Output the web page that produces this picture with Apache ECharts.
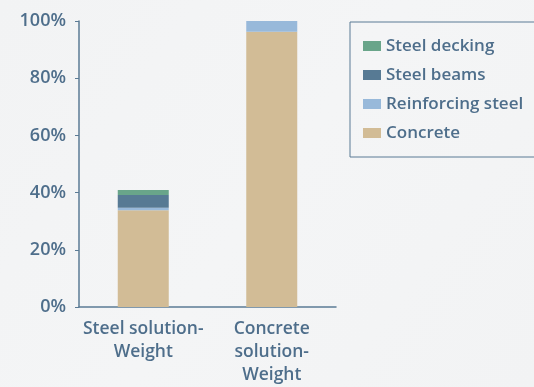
<!DOCTYPE html>
<html>
<head>
<meta charset="utf-8">
<script src="https://cdn.jsdelivr.net/npm/echarts@6/dist/echarts.min.js"></script>
<style>
  html, body { margin: 0; padding: 0; background: #f3f4f5; }
  #chart { width: 534px; height: 387px; }
</style>
</head>
<body>
<div id="chart"></div>
<script>
// Share of weight by material, per structural solution (percent)
const categories = ['Steel solution-\nWeight', 'Concrete\nsolution-\nWeight'];
const concrete = [33.8, 96.2];
const reinforcingSteel = [0.9, 3.8];
const steelBeams = [4.5, 0];
const steelDecking = [1.7, 0];
const yTicks = [0, 20, 40, 60, 80, 100];

const textColor = '#4e6e8b';
const axisColor = '#5b7b95';
const fontFamily = '"Open Sans", "Noto Sans", sans-serif';

const chart = echarts.init(document.getElementById('chart'));

function bar(name, data, color) {
  return {
    name: name,
    type: 'bar',
    stack: 'weight',
    data: data,
    barWidth: 51,
    itemStyle: { color: color },
    emphasis: { disabled: true }
  };
}

chart.setOption({
  backgroundColor: {
    type: 'linear', x: 0, y: 0, x2: 1, y2: 1,
    colorStops: [
      { offset: 0, color: '#f2f3f4' },
      { offset: 0.5, color: '#f4f5f6' },
      { offset: 1, color: '#f2f3f4' }
    ]
  },
  animation: false,
  textStyle: { fontFamily: fontFamily },
  grid: { left: 79, right: 198, top: 21, bottom: 78 },
  legend: {
    left: 350,
    top: 22,
    orient: 'vertical',
    align: 'left',
    padding: [14, 14, 14, 13],
    itemGap: 9,
    itemWidth: 18,
    itemHeight: 10,
    borderColor: axisColor,
    borderWidth: 1,
    icon: 'rect',
    data: ['Steel decking', 'Steel beams', 'Reinforcing steel', 'Concrete'],
    textStyle: {
      color: textColor,
      fontSize: 17,
      fontWeight: 600,
      lineHeight: 20,
      fontFamily: fontFamily
    }
  },
  xAxis: {
    type: 'category',
    data: categories,
    axisLine: { lineStyle: { color: axisColor, width: 1.5 } },
    axisTick: { inside: true, length: 4, lineStyle: { color: axisColor } },
    axisLabel: {
      color: textColor,
      fontSize: 17.5,
      fontWeight: 600,
      lineHeight: 23,
      margin: 11,
      interval: 0,
      fontFamily: fontFamily
    }
  },
  yAxis: {
    type: 'value',
    min: yTicks[0],
    max: yTicks[yTicks.length - 1],
    interval: yTicks[1] - yTicks[0],
    splitLine: { show: false },
    axisLine: { show: true, lineStyle: { color: axisColor, width: 1.5 } },
    axisTick: { show: true, length: 4, lineStyle: { color: axisColor } },
    axisLabel: {
      color: textColor,
      fontSize: 18,
      fontWeight: 600,
      margin: 13,
      fontFamily: fontFamily,
      formatter: '{value}%'
    }
  },
  series: [
    bar('Concrete', concrete, '#d2bc96'),
    bar('Reinforcing steel', reinforcingSteel, '#98b9da'),
    bar('Steel beams', steelBeams, '#577a94'),
    bar('Steel decking', steelDecking, '#69a58a')
  ]
});
</script>
</body>
</html>
